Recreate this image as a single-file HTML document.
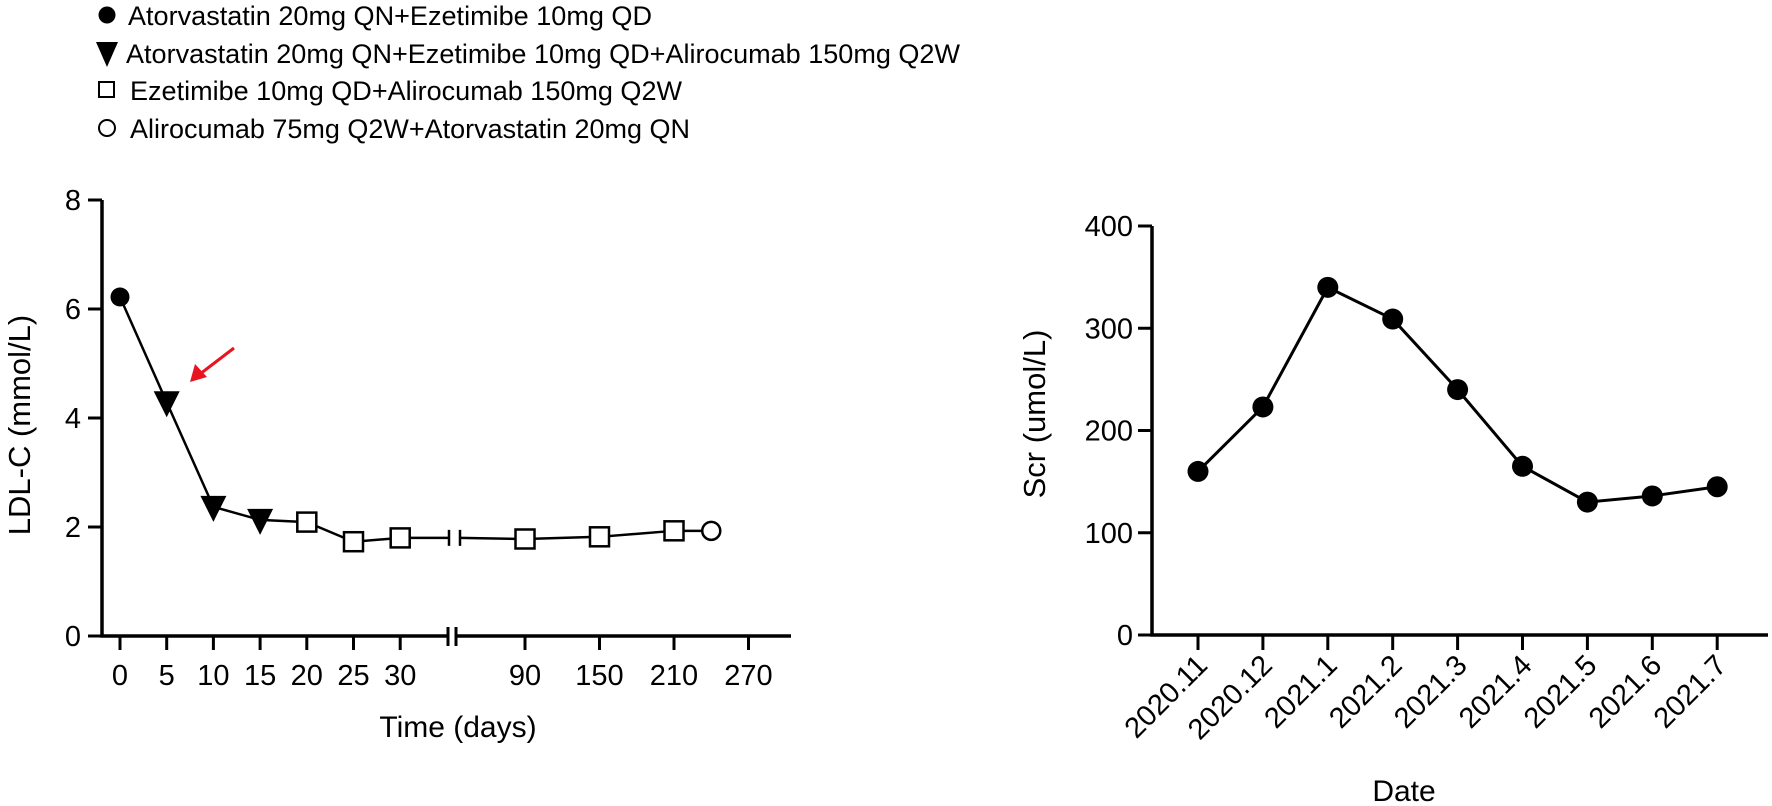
<!DOCTYPE html>
<html><head><meta charset="utf-8"><style>
body{margin:0;background:#fff;}
svg{display:block;font-family:"Liberation Sans",Arial,sans-serif;}
</style></head><body>
<svg width="1772" height="806" viewBox="0 0 1772 806">
<g id="legend" font-size="27" fill="#000">
  <g>
    <circle cx="107" cy="15" r="8.5" fill="#000"/>
    <text x="128" y="25" textLength="524" lengthAdjust="spacingAndGlyphs">Atorvastatin 20mg QN+Ezetimibe 10mg QD</text></g>
  <g>
    <path d="M96,42 L118,42 L107,67 Z" fill="#000"/>
    <text x="126" y="63" textLength="834" lengthAdjust="spacingAndGlyphs">Atorvastatin 20mg QN+Ezetimibe 10mg QD+Alirocumab 150mg Q2W</text></g>
  <g>
    <rect x="99" y="82" width="15" height="15" fill="none" stroke="#000" stroke-width="2"/>
    <text x="130" y="100" textLength="552" lengthAdjust="spacingAndGlyphs">Ezetimibe 10mg QD+Alirocumab 150mg Q2W</text></g>
  <g>
    <circle cx="107" cy="128" r="8" fill="none" stroke="#000" stroke-width="2"/>
    <text x="130" y="138" textLength="560" lengthAdjust="spacingAndGlyphs">Alirocumab 75mg Q2W+Atorvastatin 20mg QN</text></g>
</g>
<g id="left"></g>
<g id="right"></g>
</svg>
<script>
const ldlDays=[0,5,10,15,20,25,30,90,150,210,240];
const ldlValues=[6.22,4.29,2.37,2.13,2.09,1.73,1.80,1.78,1.82,1.93,1.93];
const ldlGroups=['dot','tri','tri','tri','sq','sq','sq','sq','sq','sq','open'];
const ldlYTicks=[0,2,4,6,8];
const ldlXTicks=[0,5,10,15,20,25,30,90,150,210,270];
const scrDates=['2020.11','2020.12','2021.1','2021.2','2021.3','2021.4','2021.5','2021.6','2021.7'];
const scrValues=[160,223,340,309,240,165,130,136,145];
const scrYTicks=[0,100,200,300,400];

const NS='http://www.w3.org/2000/svg';
function mk(parent,tag,attrs,text){const e=document.createElementNS(NS,tag);for(const k in attrs)e.setAttribute(k,attrs[k]);if(text!==undefined)e.textContent=text;parent.appendChild(e);return e;}

// LEFT
const L=document.getElementById('left');
const ly=v=>636-v*54.5;
const lx=d=>d<=30?120+d*9.34:525+(d-90)*(74.5/60);
let ax=mk(L,'path',{d:'M102,200 L102,636 L449,636 M457,636 L791,636',stroke:'#000','stroke-width':3.5,fill:'none'});

let br=mk(L,'path',{d:'M448,627 L448,646 M456,627 L456,646',stroke:'#000','stroke-width':3});

ldlYTicks.forEach(t=>{
  mk(L,'line',{x1:88,x2:102,y1:ly(t),y2:ly(t),stroke:'#000','stroke-width':3});
  const tx=mk(L,'text',{x:81,y:ly(t)+10,'text-anchor':'end','font-size':29},t);
  
});
ldlXTicks.forEach(t=>{
  mk(L,'line',{x1:lx(t),x2:lx(t),y1:636,y2:650,stroke:'#000','stroke-width':3});
  const tx=mk(L,'text',{x:lx(t),y:685,'text-anchor':'middle','font-size':29},t);
  
});
let xt=mk(L,'text',{x:458,y:737,'text-anchor':'middle','font-size':30},'Time (days)');

let yt=mk(L,'text',{x:0,y:0,'text-anchor':'middle','font-size':31,transform:'translate(30,425) rotate(-90)'},'LDL-C (mmol/L)');

const pre=[],post=[];
ldlDays.forEach((d,i)=>{(d<=30?pre:post).push([lx(d),ly(ldlValues[i])]);});
const lastPre=pre[pre.length-1];
pre.push([449,lastPre[1]]);
post.unshift([460,lastPre[1]]);
let p1=mk(L,'polyline',{points:pre.map(p=>p.join(',')).join(' '),fill:'none',stroke:'#000','stroke-width':2.5});

let p2=mk(L,'polyline',{points:post.map(p=>p.join(',')).join(' '),fill:'none',stroke:'#000','stroke-width':2.5});

let lb=mk(L,'path',{d:`M449,${lastPre[1]-8} L449,${lastPre[1]+8} M460,${lastPre[1]-8} L460,${lastPre[1]+8}`,stroke:'#000','stroke-width':2.5});

ldlDays.forEach((d,i)=>{
  const x=lx(d),y=ly(ldlValues[i]),g=ldlGroups[i];let m;
  if(g==='dot')m=mk(L,'circle',{cx:x,cy:y,r:9.5,fill:'#000'});
  else if(g==='tri')m=mk(L,'path',{d:`M${x-13},${y-11} L${x+13},${y-11} L${x},${y+15} Z`,fill:'#000'});
  else if(g==='sq')m=mk(L,'rect',{x:x-9.5,y:y-9.5,width:19,height:19,fill:'#fff',stroke:'#000','stroke-width':2.5});
  else m=mk(L,'circle',{cx:x,cy:y,r:9,fill:'#fff',stroke:'#000','stroke-width':2.5});
  
  
});
let ar=mk(L,'g',{});

mk(ar,'line',{x1:234,y1:348,x2:200,y2:374,stroke:'#e8141e','stroke-width':3});
mk(ar,'path',{d:'M190,382 L195,364 L207,377 Z',fill:'#e8141e'});

// RIGHT
const R=document.getElementById('right');
const ry=v=>635-v*(409/400);
const rx=i=>1198+i*64.9;
let rax=mk(R,'path',{d:'M1152,226 L1152,635 L1768,635',stroke:'#000','stroke-width':3.5,fill:'none'});

scrYTicks.forEach(t=>{
  mk(R,'line',{x1:1138,x2:1152,y1:ry(t),y2:ry(t),stroke:'#000','stroke-width':3});
  const tx=mk(R,'text',{x:1133,y:ry(t)+10,'text-anchor':'end','font-size':29},t);
  
});
scrDates.forEach((d,i)=>{
  mk(R,'line',{x1:rx(i),x2:rx(i),y1:635,y2:650,stroke:'#000','stroke-width':3});
  const tx=mk(R,'text',{x:0,y:0,'text-anchor':'end','font-size':29,transform:`translate(${rx(i)+11},${667}) rotate(-45)`},d);
  
});
let dt=mk(R,'text',{x:1404,y:801,'text-anchor':'middle','font-size':30},'Date');

let syt=mk(R,'text',{x:0,y:0,'text-anchor':'middle','font-size':31,transform:'translate(1045,414) rotate(-90)'},'Scr (umol/L)');

let sl=mk(R,'polyline',{points:scrValues.map((v,i)=>rx(i)+','+ry(v)).join(' '),fill:'none',stroke:'#000','stroke-width':3});

scrValues.forEach((v,i)=>{
  const c=mk(R,'circle',{cx:rx(i),cy:ry(v),r:10.5,fill:'#000'});
  
  
});
</script>
</body></html>
